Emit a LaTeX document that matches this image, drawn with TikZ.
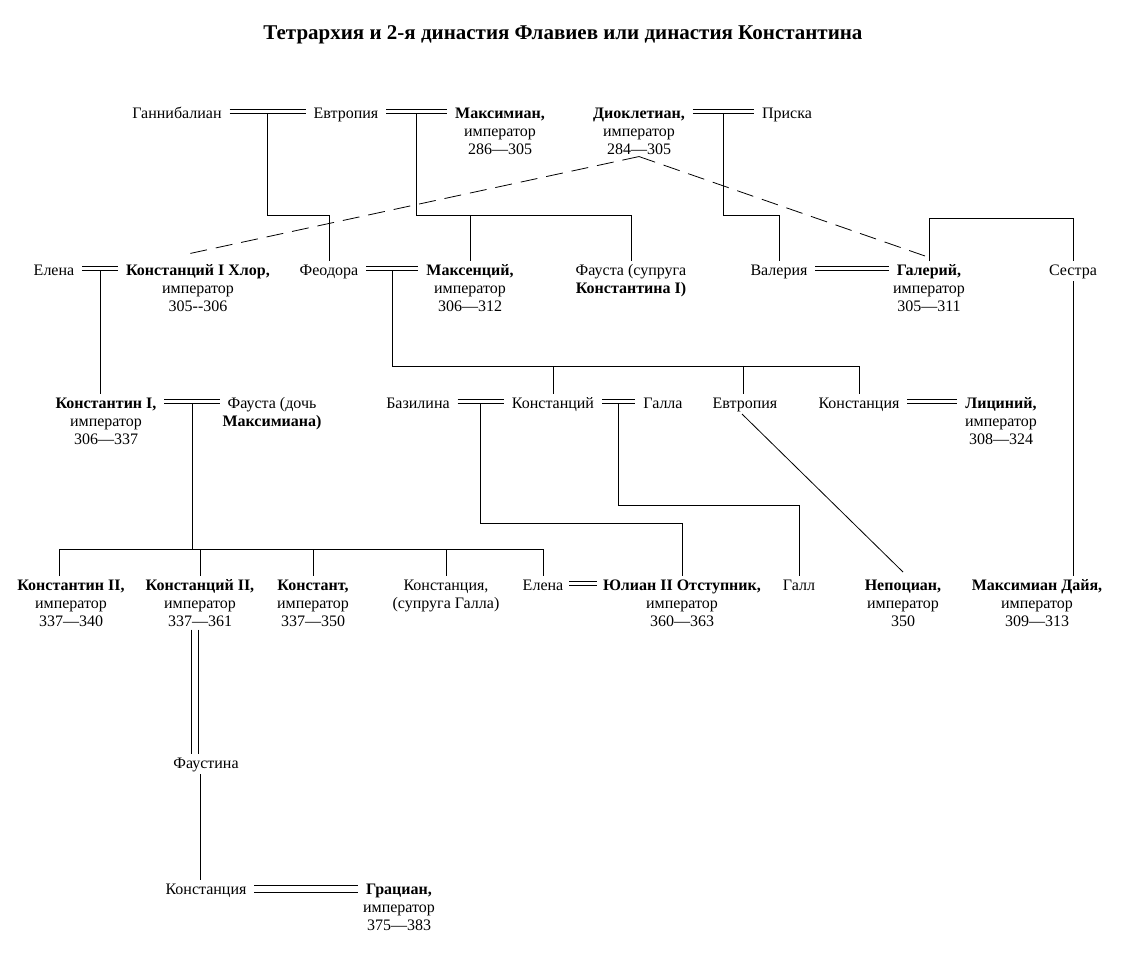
\documentclass[tikz,border=0pt]{standalone}
\usepackage{fontspec}
\setmainfont{Liberation Serif}
\usetikzlibrary{calc}
\newcommand\fs{\fontsize{16}{18}\selectfont}
\newcommand\myst{\rule{0pt}{13pt}}
% marriage: left node, right node, raise of centre above baseline, half gap, end gap
\newcommand\wed[5]{%
  \draw[ml] ([shift={(#5,-#3-#4)}]#1.base east) -- ([shift={(-#5,-#3-#4)}]#2.base west);
  \draw[ml] ([shift={(#5,-#3+#4)}]#1.base east) -- ([shift={(-#5,-#3+#4)}]#2.base west);}
\begin{document}
\begin{tikzpicture}[x=1pt,y=-1pt,
  nm/.style={inner sep=0pt, outer sep=3pt, text height=11pt, text depth=3pt, anchor=base, font=\fs},
  bnm/.style={nm, font=\fs\bfseries},
  sub/.style={inner sep=0pt, anchor=north, align=center, font=\fs},
  ln/.style={line width=0.8pt, black},
  ml/.style={line width=0.8pt, black},
  adopt/.style={ln, dash pattern=on 17pt off 9pt}]
\useasboundingbox (0,0) rectangle (1125,958);
\fill[white] (0,0) rectangle (1125,958);

\node[font=\fontsize{21}{24}\selectfont\bfseries, anchor=base, inner sep=0pt] (title) at (563,40)
  {Тетрархия и 2-я династия Флавиев или династия Константина};

% row 1
\node[nm] (gann) at (177,118) {Ганнибалиан};
\node[nm] (evtr1) at (346,118) {Евтропия};
\node[bnm] (maxim) at (500,118) {Максимиан,};
\node[sub] (maxim-s) at ([yshift=-5pt]maxim.base) {\myst император\\286—305};
\node[bnm] (diocl) at (639,118) {Диоклетиан,};
\node[sub] (diocl-s) at ([yshift=-5pt]diocl.base) {\myst император\\284—305};
\node[nm] (prisk) at (787,118) {Приска};

% row 2
\node[nm] (elena1) at (54,275) {Елена};
\node[bnm] (chlor) at (198,275) {Констанций I Хлор,};
\node[sub] (chlor-s) at ([yshift=-5pt]chlor.base) {\myst император\\305-{}-306};
\node[nm] (feod) at (329,275) {Феодора};
\node[bnm] (maxen) at (470,275) {Максенций,};
\node[sub] (maxen-s) at ([yshift=-5pt]maxen.base) {\myst император\\306—312};
\node[nm] (fausta1) at (631,275) {Фауста (супруга};
\node[sub] (fausta1-s) at ([yshift=-5pt]fausta1.base) {\myst\textbf{Константина I)}};
\node[nm] (valer) at (779,275) {Валерия};
\node[bnm] (galer) at (929,275) {Галерий,};
\node[sub] (galer-s) at ([yshift=-5pt]galer.base) {\myst император\\305—311};
\node[nm] (sestra) at (1073,275) {Сестра};

% row 3
\node[bnm] (konst1) at (106,408) {Константин I,};
\node[sub] (konst1-s) at ([yshift=-5pt]konst1.base) {\myst император\\306—337};
\node[nm] (fausta2) at (272,408) {Фауста (дочь};
\node[sub] (fausta2-s) at ([yshift=-5pt]fausta2.base) {\myst\textbf{Максимиана)}};
\node[nm] (bazil) at (418,408) {Базилина};
\node[nm] (konstc) at (553,408) {Констанций};
\node[nm] (galla) at (663,408) {Галла};
\node[nm] (evtr2) at (745,408) {Евтропия};
\node[nm] (konstcia1) at (859,408) {Констанция};
\node[bnm] (licin) at (1001,408) {Лициний,};
\node[sub] (licin-s) at ([yshift=-5pt]licin.base) {\myst император\\308—324};

% row 4
\node[bnm] (k2) at (71,590) {Константин II,};
\node[sub] (k2-s) at ([yshift=-5pt]k2.base) {\myst император\\337—340};
\node[bnm] (kc2) at (200,590) {Констанций II,};
\node[sub] (kc2-s) at ([yshift=-5pt]kc2.base) {\myst император\\337—361};
\node[bnm] (konstant) at (313,590) {Констант,};
\node[sub] (konstant-s) at ([yshift=-5pt]konstant.base) {\myst император\\337—350};
\node[nm] (konstcia2) at (446,590) {Констанция,};
\node[sub] (konstcia2-s) at ([yshift=-5pt]konstcia2.base) {\myst (супруга Галла)};
\node[nm] (elena2) at (543,590) {Елена};
\node[bnm] (julian) at (682,590) {Юлиан II Отступник,};
\node[sub] (julian-s) at ([yshift=-5pt]julian.base) {\myst император\\360—363};
\node[nm] (gall) at (799,590) {Галл};
\node[bnm] (nepo) at (903,590) {Непоциан,};
\node[sub] (nepo-s) at ([yshift=-5pt]nepo.base) {\myst император\\350};
\node[bnm] (maxd) at (1037,590) {Максимиан Дайя,};
\node[sub] (maxd-s) at ([yshift=-5pt]maxd.base) {\myst император\\309—313};

% bottom
\node[nm] (faust) at (206,768) {Фаустина};
\node[nm] (konstcia3) at (206,894) {Констанция};
\node[bnm] (gratian) at (399,894) {Грациан,};
\node[sub] (gratian-s) at ([yshift=-5pt]gratian.base) {\myst император\\375—383};

% bus levels
\coordinate (yA) at (0,215);
\coordinate (yS) at (0,218);
\coordinate (yB) at (0,366);
\coordinate (yC) at (0,549);
\coordinate (yD) at (0,523);
\coordinate (yE) at (0,505);

% marriages
\wed{gann}{evtr1}{6.5}{2}{5}
\wed{evtr1}{maxim}{6.5}{2}{5}
\wed{diocl}{prisk}{6.5}{2}{5}
\wed{elena1}{chlor}{6.5}{2}{5}
\wed{feod}{maxen}{6.5}{2}{5}
\wed{valer}{galer}{6.5}{2}{5}
\wed{konst1}{fausta2}{6.5}{2}{5}
\wed{bazil}{konstc}{6.5}{2}{5}
\wed{konstc}{galla}{6.5}{2}{5}
\wed{konstcia1}{licin}{6.5}{2}{5}
\wed{elena2}{julian}{6.5}{2}{3}
\wed{konstcia3}{gratian}{5}{3.5}{5}
\draw[ml] ([shift={(-9,3)}]kc2-s.south) -- ([xshift=-9pt]kc2-s.south |- faust.north);
\draw[ml] ([shift={(-2,3)}]kc2-s.south) -- ([xshift=-2pt]kc2-s.south |- faust.north);

% child points
\coordinate (c1) at ($(gann.base east)!0.5!(evtr1.base west)+(0,-4.5)$);
\coordinate (c2) at ($(evtr1.base east)!0.5!(maxim.base west)+(0,-4.5)$);
\coordinate (c3) at ($(diocl.base east)!0.5!(prisk.base west)+(0,-4.5)$);
\coordinate (c4) at ($(elena1.base east)!0.5!(chlor.base west)+(0,-4.5)$);
\coordinate (c5) at ($(feod.base east)!0.5!(maxen.base west)+(0,-4.5)$);
\coordinate (c6) at ($(konst1.base east)!0.5!(fausta2.base west)+(0,-4.5)$);
\coordinate (c7) at ($(bazil.base east)!0.5!(konstc.base west)+(0,-4.5)$);
\coordinate (c8) at ($(konstc.base east)!0.5!(galla.base west)+(0,-4.5)$);

% descent lines
\draw[ln] (c1) -- (c1 |- yA) -| (feod.north);
\draw[ln] (c2) -- (c2 |- yA) -| (fausta1.north);
\draw[ln] (maxen.north |- yA) -- (maxen.north);
\draw[ln] (c3) -- (c3 |- yA) -| (valer.north);
\draw[ln] (c4) -- (c4 |- konst1.north);
\draw[ln] (c5) -- (c5 |- yB) -| (konstcia1.north);
\draw[ln] (konstc.north |- yB) -- (konstc.north);
\draw[ln] ([xshift=-2pt]evtr2.north |- yB) -- ([xshift=-2pt]evtr2.north);
\draw[ln] (c6) -- (c6 |- yC);
\draw[ln] ([xshift=-12pt]k2.north) -- ([xshift=-12pt]k2.north |- yC) -| (elena2.north);
\draw[ln] (kc2.north |- yC) -- (kc2.north);
\draw[ln] (konstant.north |- yC) -- (konstant.north);
\draw[ln] (konstcia2.north |- yC) -- (konstcia2.north);
\draw[ln] (c7) -- (c7 |- yD) -| (julian.north);
\draw[ln] (c8) -- (c8 |- yE) -| (gall.north);
\draw[ln] ([xshift=-3pt]evtr2.south) -- ([yshift=4pt]nepo.north);
\draw[ln] (galer.north) -- (galer.north |- yS) -| (sestra.north);
\draw[ln] (sestra.south) -- (sestra.south |- maxd.north);
\draw[ln] ([xshift=-6pt]faust.south) -- ([xshift=-6pt]faust.south |- konstcia3.north);

% adoptions
\draw[adopt] ([yshift=-2pt]diocl-s.south) -- ([shift={(-15,-6)}]chlor.north);
\draw[adopt] ([yshift=-2pt]diocl-s.south) -- ([shift={(-4,-5)}]galer.north);
\end{tikzpicture}
\end{document}
